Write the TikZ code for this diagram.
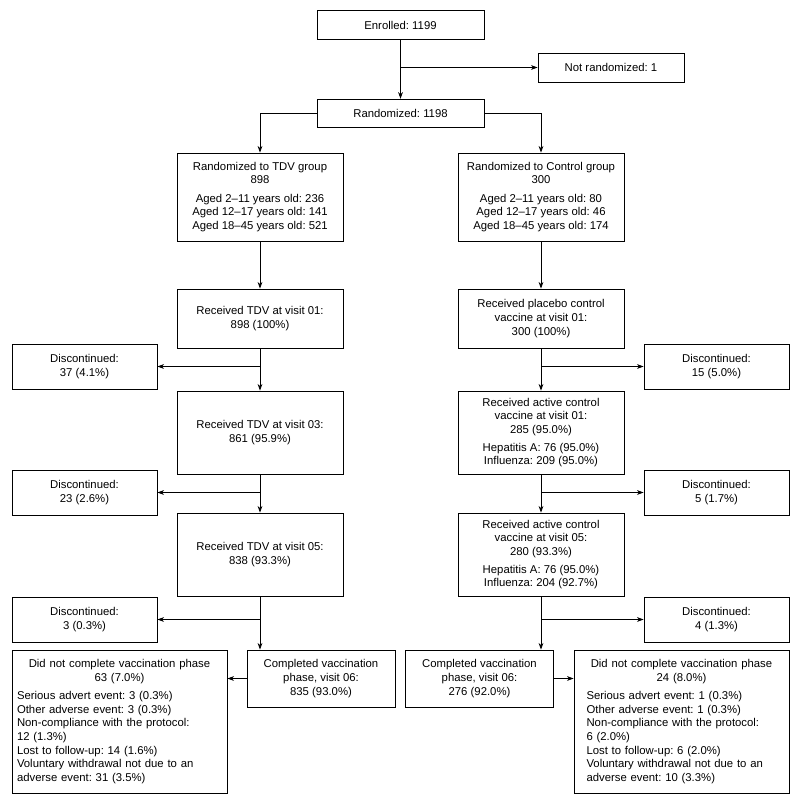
\documentclass[tikz,border=0pt]{standalone}
\usepackage{fontspec}
\setmainfont{Liberation Sans}
\usepackage{tikz}
\usetikzlibrary{arrows.meta,positioning}
\frenchspacing

\begin{document}
\begin{tikzpicture}[
  x=0.75pt, y=-0.75pt,
  box/.style={draw, line width=0.6pt, align=center, inner sep=0pt,
              font=\fontsize{8.5}{10.25}\selectfont},
  head/.style={box, minimum width=125.25pt, minimum height=21.5pt},
  arm/.style={box, minimum width=124.5pt},
  drop/.style={box, minimum width=108.75pt, minimum height=33.75pt},
  done/.style={box, minimum width=111pt, minimum height=42.75pt},
  notdone/.style={box, align=left, minimum height=107.25pt},
  arr/.style={-{Stealth[length=5pt, width=3.6pt]}, line width=0.6pt},
]
\useasboundingbox (0,0) rectangle (800,807);
\node[head] (enrolled) at (400.5,25) {Enrolled: 1199};
\node[box, minimum width=109.5pt, minimum height=21.75pt] (notrand) at (611,67.5) {Not randomized: 1};
\node[head] (rand) at (400.5,113.5) {Randomized: 1198};
\node[arm, minimum height=66pt] (tdv) at (260,197) {Randomized to TDV group\\ 898\\[3.5pt]
Aged 2–11 years old: 236\\ Aged 12–17 years old: 141\\ Aged 18–45 years old: 521};
\node[arm, minimum height=66pt] (ctrl) at (541,197) {Randomized to Control group\\ 300\\[3.5pt]
Aged 2–11 years old: 80\\ Aged 12–17 years old: 46\\ Aged 18–45 years old: 174};
\node[arm, minimum height=44.25pt] (tdvA) at (260,318.5) {Received TDV at visit 01:\\ 898 (100\%)};
\node[arm, minimum height=44.25pt] (ctrlA) at (541,318.5) {Received placebo control\\
vaccine at visit 01:\\ 300 (100\%)};
\node[drop] (discAl) at (84.5,366.5) {Discontinued:\\ 37 (4.1\%)};
\node[drop] (discAr) at (716.5,366.5) {Discontinued:\\ 15 (5.0\%)};
\node[arm, minimum height=62.25pt] (tdvB) at (260,432.5) {Received TDV at visit 03:\\ 861 (95.9\%)};
\node[arm, minimum height=62.25pt] (ctrlB) at (541,432.5) {Received active control\\
vaccine at visit 01:\\ 285 (95.0\%)\\[3pt] Hepatitis A: 76 (95.0\%)\\ Influenza: 209 (95.0\%)};
\node[drop] (discBl) at (84.5,492.5) {Discontinued:\\ 23 (2.6\%)};
\node[drop] (discBr) at (716.5,492.5) {Discontinued:\\ 5 (1.7\%)};
\node[arm, minimum height=62.25pt] (tdvC) at (260,554.5) {Received TDV at visit 05:\\ 838 (93.3\%)};
\node[arm, minimum height=62.25pt] (ctrlC) at (541,554.5) {Received active control\\
vaccine at visit 05:\\ 280 (93.3\%)\\[3pt] Hepatitis A: 76 (95.0\%)\\ Influenza: 204 (92.7\%)};
\node[drop] (discCl) at (84.5,619.5) {Discontinued:\\ 3 (0.3\%)};
\node[drop] (discCr) at (716.5,619.5) {Discontinued:\\ 4 (1.3\%)};
\node[done] (complL) at (321,678.5) {Completed vaccination\\ phase, visit 06:\\ 835 (93.0\%)};
\node[done] (complR) at (479.5,678.5) {Completed vaccination\\ phase, visit 06:\\ 276 (92.0\%)};
\node[notdone, text width=153.75pt, inner xsep=3.75pt] (dncL) at (119.5,721.5)
{{\centering Did not complete vaccination phase\\ 63 (7.0\%)\par}\vspace{3.5pt}
Serious advert event: 3 (0.3\%)\\ Other adverse event: 3 (0.3\%)\\
Non-compliance with the protocol:\\ 12 (1.3\%)\\ Lost to follow-up: 14 (1.6\%)\\
Voluntary withdrawal not due to an\\ adverse event: 31 (3.5\%)};
\node[notdone, text width=142.45pt, inner xsep=9.4pt] (dncR) at (681.5,721.5)
{{\centering Did not complete vaccination phase\\ 24 (8.0\%)\par}\vspace{3.5pt}
Serious advert event: 1 (0.3\%)\\ Other adverse event: 1 (0.3\%)\\
Non-compliance with the protocol:\\ 6 (2.0\%)\\ Lost to follow-up: 6 (2.0\%)\\
Voluntary withdrawal not due to an\\ adverse event: 10 (3.3\%)};
\draw[arr] (enrolled) -- (rand);
\draw[arr] (enrolled |- notrand) -- (notrand);
\draw[arr] (rand) -| (tdv);
\draw[arr] (rand) -| (ctrl);
\draw[arr] (tdv) -- (tdvA);
\draw[arr] (ctrl) -- (ctrlA);
\draw[arr] (tdvA) -- (tdvB);
\draw[arr] (ctrlA) -- (ctrlB);
\draw[arr] (tdvA |- discAl) -- (discAl);
\draw[arr] (ctrlA |- discAr) -- (discAr);
\draw[arr] (tdvB) -- (tdvC);
\draw[arr] (ctrlB) -- (ctrlC);
\draw[arr] (tdvB |- discBl) -- (discBl);
\draw[arr] (ctrlB |- discBr) -- (discBr);
\draw[arr] (tdvC) -- (tdvC |- complL.north);
\draw[arr] (ctrlC) -- (ctrlC |- complR.north);
\draw[arr] (tdvC |- discCl) -- (discCl);
\draw[arr] (ctrlC |- discCr) -- (discCr);
\draw[arr] (complL) -- (complL -| dncL.east);
\draw[arr] (complR) -- (complR -| dncR.west);
\end{tikzpicture}
\end{document}
